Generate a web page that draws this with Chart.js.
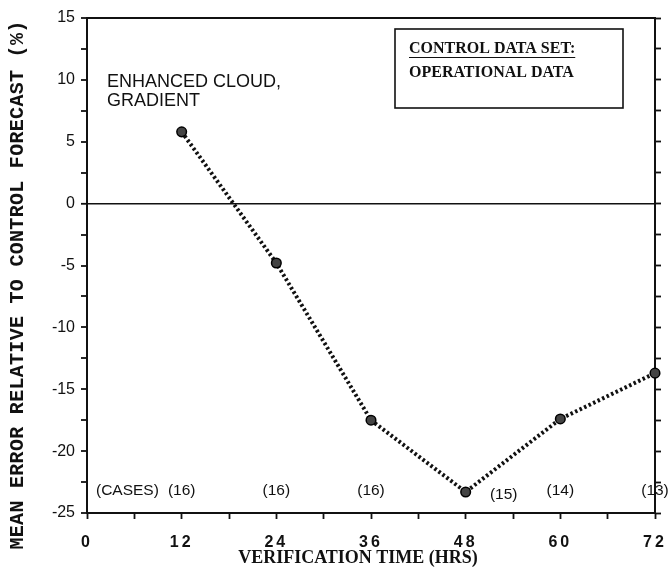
<!DOCTYPE html>
<html>
<head>
<meta charset="utf-8">
<script src="https://cdn.jsdelivr.net/npm/chart.js@4"></script>
<style>
  html, body { margin: 0; padding: 0; background: #fff; }
  #wrap { width: 668px; height: 579px; position: relative; }
</style>
</head>
<body>
<div id="wrap"><canvas id="c" width="668" height="579"></canvas></div>
<script>
// ---- data ----
const hours = [12, 24, 36, 48, 60, 72];
const meanError = [5.8, -4.8, -17.5, -23.3, -17.4, -13.7];
const cases = [16, 16, 16, 15, 14, 13];
const xMajorTicks = [0, 12, 24, 36, 48, 60, 72];
const yMajorTicks = [-25, -20, -15, -10, -5, 0, 5, 10, 15];
const yTitle = 'MEAN ERROR RELATIVE TO CONTROL FORECAST (%)';
const xTitle = 'VERIFICATION TIME (HRS)';
const annotationLines = ['ENHANCED CLOUD,', 'GRADIENT'];
const boxLines = ['CONTROL DATA SET:', 'OPERATIONAL DATA'];
const casesLabel = '(CASES)';

const SANS = '"Liberation Sans", Arial, sans-serif';
const SERIF = '"Liberation Serif", "Times New Roman", serif';
const MONO = '"Liberation Mono", "Courier New", monospace';

const spacingPlugin = {
  id: 'spacing',
  afterDatasetsDraw(chart) { chart.ctx.letterSpacing = '3px'; },
  afterDraw(chart) { chart.ctx.letterSpacing = '0px'; }
};

const textPlugin = {
  id: 'texts',
  afterDraw(chart) {
    const ctx = chart.ctx;
    const xs = chart.scales.x, ys = chart.scales.y;
    ctx.save();
    ctx.letterSpacing = '0px';
    ctx.fillStyle = '#111';
    // Y title
    ctx.save();
    ctx.translate(18, 285);
    ctx.rotate(-Math.PI / 2);
    ctx.font = 'bold 20px ' + MONO;
    ctx.letterSpacing = '0.3px';
    ctx.textAlign = 'center';
    ctx.textBaseline = 'middle';
    ctx.fillText(yTitle, 0, 0);
    ctx.restore();
    ctx.letterSpacing = '0px';
    // X title
    ctx.font = 'bold 18px ' + SERIF;
    ctx.textAlign = 'center';
    ctx.textBaseline = 'middle';
    ctx.fillText(xTitle, 358, 558);
    // annotation
    ctx.font = '18px ' + SANS;
    ctx.textAlign = 'left';
    ctx.fillText(annotationLines[0], 107, 82);
    ctx.fillText(annotationLines[1], 107, 101);
    // box
    ctx.fillStyle = '#fff';
    ctx.fillRect(395, 29, 228, 79);
    ctx.strokeStyle = '#111';
    ctx.lineWidth = 1.6;
    ctx.strokeRect(395, 29, 228, 79);
    ctx.fillStyle = '#111';
    ctx.font = 'bold 16px ' + SERIF;
    ctx.textAlign = 'left';
    ctx.fillText(boxLines[0], 409, 49);
    const w0 = ctx.measureText(boxLines[0]).width;
    ctx.lineWidth = 1.2;
    ctx.beginPath();
    ctx.moveTo(409, 57.5);
    ctx.lineTo(409 + w0, 57.5);
    ctx.stroke();
    ctx.fillText(boxLines[1], 409, 72.5);
    // cases
    ctx.font = '15.5px ' + SANS;
    ctx.textAlign = 'left';
    const yCase = ys.getPixelForValue(-23.2);
    ctx.fillText(casesLabel, 96, yCase);
    ctx.textAlign = 'center';
    hours.forEach((h, i) => {
      let px = xs.getPixelForValue(h);
      let py = yCase;
      if (h === 48) { px += 38; py += 4; }
      ctx.fillText('(' + cases[i] + ')', px, py);
    });
    ctx.restore();
  }
};

new Chart(document.getElementById('c'), {
  type: 'line',
  data: {
    datasets: [{
      data: hours.map((h, i) => ({ x: h, y: meanError[i] })),
      borderColor: '#111',
      borderWidth: 4,
      borderDash: [2.5, 2.5],
      borderCapStyle: 'butt',
      pointRadius: 4.8,
      pointBackgroundColor: '#444',
      pointBorderColor: '#000',
      pointBorderWidth: 1.5,
      tension: 0,
      clip: false,
      fill: false
    }]
  },
  options: {
    responsive: false,
    animation: false,
    events: [],
    layout: { padding: { top: 18, right: 13, left: 0, bottom: 0 } },
    plugins: { legend: { display: false }, tooltip: { enabled: false } },
    scales: {
      x: {
        type: 'linear', position: 'bottom', min: 0, max: 72,
        afterFit(s) { s.height = 66; s.paddingRight = 0; s.paddingLeft = 0; },
        ticks: {
          stepSize: 6, autoSkip: false, maxRotation: 0, padding: 14, z: 1,
          color: '#111', font: { family: SANS, size: 16, weight: 'bold' },
          callback: v => xMajorTicks.includes(v) ? String(v) : ''
        },
        grid: { drawOnChartArea: false, drawTicks: true, tickLength: 6, tickColor: '#111', tickWidth: 1.8 },
        border: { display: true, color: '#111', width: 2 }
      },
      x2: {
        type: 'linear', position: 'top', min: 0, max: 72,
        afterFit(s) { s.height = 0; s.paddingRight = 0; s.paddingLeft = 0; },
        ticks: { display: false },
        grid: { drawOnChartArea: false, drawTicks: false },
        border: { display: true, color: '#111', width: 2 }
      },
      y: {
        type: 'linear', position: 'left', min: -25, max: 15,
        afterFit(s) { s.width = 87; },
        ticks: {
          stepSize: 2.5, autoSkip: false, padding: 6,
          color: '#111', font: { family: SANS, size: 16 },
          callback: v => yMajorTicks.includes(v) ? String(v) : ''
        },
        grid: {
          drawOnChartArea: true, drawTicks: true, tickLength: 6,
          color: c => (c.tick && c.tick.value === 0) ? '#111' : 'rgba(0,0,0,0)',
          lineWidth: c => (c.tick && c.tick.value === 0) ? 1.6 : 0,
          tickColor: '#111', tickWidth: 1.8
        },
        border: { display: true, color: '#111', width: 2 }
      },
      y2: {
        type: 'linear', position: 'right', min: -25, max: 15,
        afterFit(s) { s.width = 0; },
        ticks: { stepSize: 2.5, display: false },
        grid: { drawOnChartArea: false, drawTicks: true, tickLength: 6, tickColor: '#111', tickWidth: 1.8 },
        border: { display: true, color: '#111', width: 2 }
      }
    }
  },
  plugins: [spacingPlugin, textPlugin]
});
</script>
</body>
</html>
